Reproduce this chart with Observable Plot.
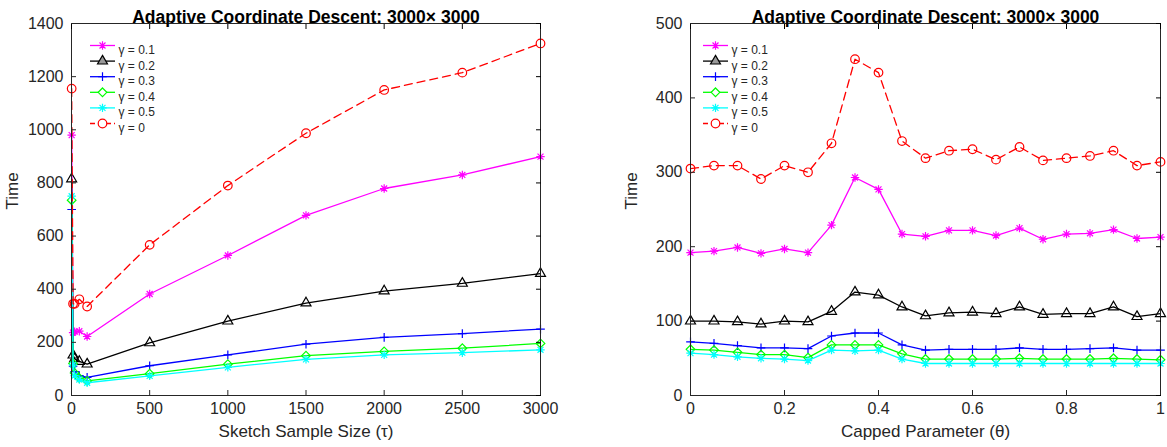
<!DOCTYPE html>
<html>
<head>
<meta charset="utf-8">
<script src="https://cdn.jsdelivr.net/npm/d3@7"></script>
<script src="https://cdn.jsdelivr.net/npm/@observablehq/plot@0.6"></script>
<style>
  html, body { margin: 0; padding: 0; background: #fff; overflow: hidden; }
  #wrap { display: flex; width: 1167px; height: 447px; }
  #wrap svg { overflow: visible; flex: none; max-width: none; }
</style>
</head>
<body>
<div id="wrap"></div>
<script>
// ---------- data ----------
const seriesNames = ["γ = 0.1", "γ = 0.2", "γ = 0.3", "γ = 0.4", "γ = 0.5", "γ = 0"];
const seriesColors = ["#ff00ff", "#000000", "#0000ff", "#00ff00", "#00ffff", "#ff0000"];
const seriesSymbols = ["asterisk8", "triangle", "plus", "diamond2", "asterisk8", "circle"];

const titleText = "Adaptive Coordinate Descent: 3000× 3000";

// Left panel: Sketch Sample Size (tau)
const tauX = [1, 10, 20, 50, 100, 500, 1000, 1500, 2000, 2500, 3000];
const tauG01 = [980, 237, 240, 242, 222, 382, 527, 678, 779, 830, 899];
const tauG02 = [815, 152, 138, 128, 118, 198, 280, 348, 393, 422, 459];
const tauG03 = [700, 110, 90, 75, 68, 112, 153, 193, 219, 233, 250];
const tauG04 = [735, 120, 85, 66, 55, 82, 118, 150, 166, 178, 196];
const tauG05 = [750, 115, 75, 60, 48, 74, 106, 136, 153, 161, 172];
const tauG0  = [1155, 345, 345, 362, 335, 567, 790, 987, 1150, 1215, 1325];
const tauXTicks = [0, 500, 1000, 1500, 2000, 2500, 3000];
const tauYTicks = [0, 200, 400, 600, 800, 1000, 1200, 1400];

// Right panel: Capped Parameter (theta)
const thetaX = [0, 0.05, 0.1, 0.15, 0.2, 0.25, 0.3, 0.35, 0.4, 0.45, 0.5,
                0.55, 0.6, 0.65, 0.7, 0.75, 0.8, 0.85, 0.9, 0.95, 1];
const thG01 = [192, 194, 199, 191, 197, 192, 229, 293, 277, 217, 214, 222, 222, 215, 225, 210, 217, 218, 223, 211, 213];
const thG02 = [100, 100, 99, 96, 100, 99, 113, 139, 135, 119, 107, 111, 112, 110, 119, 109, 110, 110, 119, 106, 110];
const thG03 = [72, 70, 67, 64, 64, 63, 80, 84, 84, 68, 61, 62, 62, 62, 64, 62, 62, 63, 64, 61, 61];
const thG04 = [62, 61, 58, 55, 55, 51, 68, 68, 68, 56, 49, 49, 49, 49, 50, 49, 49, 49, 50, 49, 48];
const thG05 = [57, 55, 52, 50, 49, 47, 61, 60, 61, 49, 43, 43, 43, 43, 43, 43, 43, 43, 43, 43, 43];
const thG0  = [305, 309, 309, 291, 309, 300, 339, 452, 434, 342, 319, 329, 331, 317, 334, 316, 319, 322, 329, 309, 314];
const thetaXTicks = [0, 0.2, 0.4, 0.6, 0.8, 1];
const thetaYTicks = [0, 100, 200, 300, 400, 500];

// ---------- helpers ----------
// 8-armed asterisk like MATLAB's '*'
const asterisk8 = {
  draw(ctx, size) {
    const r = Math.sqrt(size / Math.PI);
    const d = r * Math.SQRT1_2;
    ctx.moveTo(-r, 0); ctx.lineTo(r, 0);
    ctx.moveTo(0, -r); ctx.lineTo(0, r);
    ctx.moveTo(-d, -d); ctx.lineTo(d, d);
    ctx.moveTo(-d, d); ctx.lineTo(d, -d);
  }
};
const lineSymbol = {
  draw(ctx, size) {
    const h = Math.sqrt(size / Math.PI);
    ctx.moveTo(-h, 0);
    ctx.lineTo(h, 0);
  }
};
const symbolMap = {asterisk8, triangle: "triangle", plus: "plus", diamond2: "diamond2", circle: "circle"};
const symbolR = {asterisk8: 4.2, triangle: 3.7, plus: 2.9, diamond2: 3.9, circle: 4.3};

const axisColor = "#262626";
const font = "'Liberation Sans', Arial, Helvetica, sans-serif";
const fmt = d => String(d);

function panel({xs, ys, xTicks, yTicks, xDomain, yDomain, xLabel, width, marginLeft, marginRight, legendDx}) {
  const marks = [];
  ys.forEach((vals, i) => {
    const data = xs.map((x, j) => ({x, y: vals[j]}));
    const isRed = i === 5;
    marks.push(Plot.line(data, {
      x: "x", y: "y", stroke: seriesColors[i], strokeWidth: 1.3,
      strokeDasharray: isRed ? "8,5" : null
    }));
    marks.push(Plot.dot(data, {
      x: "x", y: "y", stroke: seriesColors[i], fill: "none", strokeWidth: 1.2,
      symbol: symbolMap[seriesSymbols[i]], r: symbolR[seriesSymbols[i]]
    }));
  });
  marks.push(Plot.frame({stroke: axisColor, strokeWidth: 1}));
  marks.push(Plot.axisX(xTicks, {anchor: "bottom", tickSize: -5, tickPadding: 12, tickFormat: fmt, label: null, fontSize: 16, color: axisColor}));
  marks.push(Plot.axisX(xTicks, {anchor: "top", tickSize: -5, tickFormat: () => "", label: null}));
  marks.push(Plot.axisY(yTicks, {anchor: "left", tickSize: -5, tickPadding: 13, tickFormat: fmt, label: null, fontSize: 16, color: axisColor}));
  marks.push(Plot.axisY(yTicks, {anchor: "right", tickSize: -5, tickFormat: () => "", label: null}));
  seriesNames.forEach((name, i) => {
    const dy = 22 + i * 15.6;
    marks.push(Plot.dot([name], {
      x: null, y: null, frameAnchor: "top-left", dx: legendDx, dy,
      symbol: lineSymbol, r: 12.5, stroke: seriesColors[i], strokeWidth: 1.3,
      strokeDasharray: i === 5 ? "5,3" : null
    }));
    marks.push(Plot.dot([name], {
      x: null, y: null, frameAnchor: "top-left", dx: legendDx, dy,
      symbol: symbolMap[seriesSymbols[i]], r: symbolR[seriesSymbols[i]], stroke: seriesColors[i],
      fill: seriesSymbols[i] === "triangle" ? "#9a9a9a" : (seriesSymbols[i] === "circle" || seriesSymbols[i] === "diamond2" ? "#fff" : "none"),
      strokeWidth: 1.2
    }));
    marks.push(Plot.text([name], {
      x: null, y: null, text: d => d, frameAnchor: "top-left", dx: legendDx + 16, dy,
      textAnchor: "start", fontSize: 12, fill: axisColor
    }));
  });
  marks.push(Plot.text([titleText], {x: null, y: null, text: d => d, frameAnchor: "top", dy: -13, fontWeight: "bold", fontSize: 17.5, fill: "#000"}));
  marks.push(Plot.text([xLabel], {x: null, y: null, text: d => d, frameAnchor: "bottom", dy: 41, fontSize: 17, fill: axisColor}));
  marks.push(Plot.text(["Time"], {x: null, y: null, text: d => d, frameAnchor: "left", dx: -59, rotate: -90, fontSize: 17, fill: axisColor}));

  return Plot.plot({
    width, height: 447,
    marginLeft, marginRight, marginTop: 23, marginBottom: 52,
    x: {domain: xDomain, axis: null},
    y: {domain: yDomain, axis: null},
    style: {fontFamily: font, background: "#fff", overflow: "visible"},
    marks
  });
}

const wrap = document.getElementById("wrap");
wrap.appendChild(panel({
  xs: tauX, ys: [tauG01, tauG02, tauG03, tauG04, tauG05, tauG0],
  xTicks: tauXTicks, yTicks: tauYTicks, xDomain: [0, 3000], yDomain: [0, 1400],
  xLabel: "Sketch Sample Size (τ)", width: 583, marginLeft: 71, marginRight: 43, legendDx: 31
}));
wrap.appendChild(panel({
  xs: thetaX, ys: [thG01, thG02, thG03, thG04, thG05, thG0],
  xTicks: thetaXTicks, yTicks: thetaYTicks, xDomain: [0, 1], yDomain: [0, 500],
  xLabel: "Capped Parameter (θ)", width: 584, marginLeft: 107, marginRight: 7, legendDx: 25
}));
</script>
</body>
</html>
